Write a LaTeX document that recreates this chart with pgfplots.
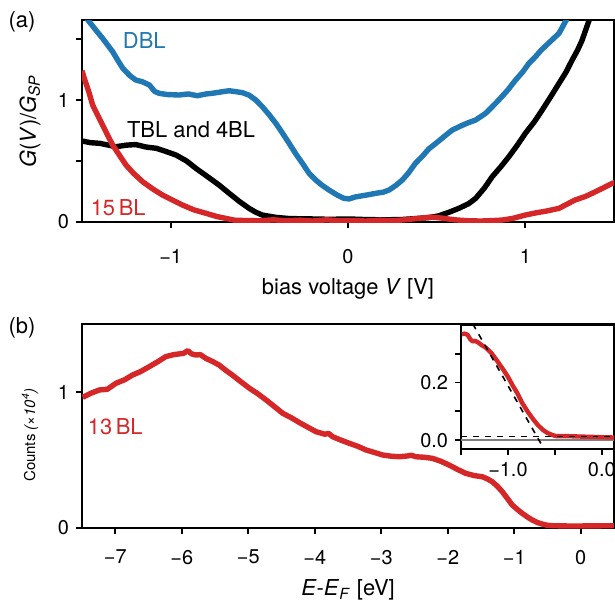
\documentclass[border=0pt]{standalone}
\usepackage{pgfplots}
\pgfplotsset{compat=1.18}
\usepackage{fontspec}
\setmainfont{TeX Gyre Heros}
\definecolor{mplblue}{HTML}{1F77B4}
\definecolor{mplred}{HTML}{D62728}

\pgfplotsset{
  panel/.style={
    scale only axis,
    axis line style={line width=1bp},
    every tick/.style={line width=0.9bp, black},
    major tick length=3bp,
    minor tick length=3bp,
    tick align=outside,
    xtick pos=bottom, ytick pos=left,
    ticklabel style={font=\fontsize{10}{12}\selectfont},
    label style={font=\fontsize{11}{13}\selectfont},
  },
  curve/.style={line width=2.7bp, line join=round},
}

\begin{document}
\begin{tikzpicture}
\useasboundingbox (0,0) rectangle (307.5bp,-301.5bp);

% panel (a)
\begin{axis}[panel,
  at={(41bp,-111bp)}, anchor=south west,
  width=266bp, height=101bp,
  xmin=-1.5, xmax=1.5, ymin=0, ymax=1.656,
  xtick={-1,0,1}, xticklabels={−1,0,1},
  xticklabel style={yshift=-7bp},
  ytick={0,0.5,1,1.5}, yticklabels={0,,1,},
  xlabel={bias voltage \textit{V} [V]},
  ylabel={\textit{G}(\textit{V})/\textit{G}\textsubscript{\textit{SP}}},
  xlabel style={at={(axis description cs:0.5,-0.33)}, anchor=center},
  ylabel style={at={(axis description cs:-0.0977,0.5)}, anchor=center},
]
\addplot[curve, mplblue] coordinates {
(-1.52,1.76) (-1.46,1.643) (-1.42,1.57) (-1.384,1.506) (-1.35,1.44) (-1.327,1.396) (-1.30,1.33)
(-1.27,1.26) (-1.23,1.20) (-1.197,1.164) (-1.16,1.15) (-1.12,1.123) (-1.09,1.07) (-1.065,1.055)
(-1.02,1.045) (-0.952,1.041) (-0.90,1.05) (-0.85,1.035) (-0.80,1.05) (-0.765,1.055) (-0.70,1.07)
(-0.67,1.076) (-0.63,1.068) (-0.595,1.06) (-0.558,1.04) (-0.52,1.0) (-0.483,0.945) (-0.445,0.88)
(-0.407,0.809) (-0.37,0.73) (-0.332,0.645) (-0.295,0.56) (-0.257,0.481) (-0.22,0.40)
(-0.182,0.344) (-0.145,0.30) (-0.107,0.262) (-0.06,0.22) (-0.023,0.194) (0.006,0.189)
(0.04,0.205) (0.08,0.215) (0.12,0.225) (0.156,0.235) (0.20,0.245) (0.231,0.262) (0.27,0.30)
(0.306,0.344) (0.34,0.40) (0.38,0.481) (0.42,0.54) (0.456,0.60) (0.50,0.65) (0.55,0.71)
(0.588,0.754) (0.64,0.79) (0.68,0.815) (0.72,0.836) (0.776,0.891) (0.81,0.94) (0.85,1.0)
(0.90,1.08) (0.945,1.164) (0.985,1.23) (1.02,1.30) (1.057,1.355) (1.09,1.41) (1.13,1.465)
(1.19,1.547) (1.226,1.643) (1.25,1.70)
};
\addplot[curve, black] coordinates {
(-1.50,0.664) (-1.45,0.65) (-1.40,0.645) (-1.35,0.63) (-1.31,0.617) (-1.25,0.63) (-1.197,0.635)
(-1.14,0.615) (-1.08,0.604) (-1.03,0.58) (-0.97,0.549) (-0.91,0.50) (-0.858,0.44) (-0.80,0.38)
(-0.727,0.303) (-0.67,0.235) (-0.614,0.17) (-0.558,0.112) (-0.52,0.08) (-0.483,0.057)
(-0.407,0.038) (-0.33,0.028) (-0.20,0.025) (-0.10,0.022) (0.0,0.025) (0.10,0.02) (0.20,0.018)
(0.30,0.02) (0.40,0.03) (0.46,0.037) (0.51,0.05) (0.57,0.08) (0.625,0.112) (0.68,0.15)
(0.72,0.194) (0.77,0.28) (0.813,0.371) (0.86,0.45) (0.907,0.535) (0.955,0.63) (1.0,0.727)
(1.05,0.82) (1.095,0.918) (1.14,1.02) (1.19,1.137) (1.23,1.23) (1.264,1.328) (1.295,1.41)
(1.32,1.49) (1.357,1.643) (1.37,1.70)
};
\addplot[curve, mplred] coordinates {
(-1.50,1.24) (-1.487,1.178) (-1.46,1.06) (-1.44,0.959) (-1.41,0.87) (-1.384,0.795)
(-1.355,0.71) (-1.327,0.631) (-1.29,0.55) (-1.252,0.467) (-1.21,0.40) (-1.158,0.33)
(-1.10,0.27) (-1.046,0.221) (-0.99,0.18) (-0.933,0.139) (-0.87,0.10) (-0.80,0.071)
(-0.74,0.045) (-0.69,0.03) (-0.64,0.015) (-0.58,0.012) (-0.50,0.01) (-0.42,0.018) (-0.35,0.01)
(-0.27,0.015) (-0.20,0.008) (-0.12,0.018) (-0.05,0.01) (0.03,0.012) (0.10,0.008) (0.18,0.015)
(0.25,0.01) (0.32,0.018) (0.40,0.03) (0.47,0.04) (0.53,0.032) (0.60,0.018) (0.68,0.01)
(0.75,0.008) (0.82,0.012) (0.87,0.016) (0.93,0.03) (1.0,0.057) (1.06,0.075) (1.12,0.09)
(1.19,0.112) (1.24,0.15) (1.28,0.18) (1.34,0.21) (1.395,0.248) (1.44,0.28) (1.49,0.317)
(1.52,0.33)
};
\node[mplblue, font=\fontsize{11}{13}\selectfont] at (axis cs:-1.149,1.484) {DBL};
\node[black, font=\fontsize{11}{13}\selectfont] at (axis cs:-0.885,0.754) {TBL and 4BL};
\node[mplred, font=\fontsize{11}{13}\selectfont] at (axis cs:-1.296,0.115) {15\,BL};
\end{axis}

% panel (b)
\begin{axis}[panel,
  at={(41bp,-264bp)}, anchor=south west,
  width=266bp, height=102bp,
  xmin=-7.5, xmax=0.5, ymin=0, ymax=1.5,
  xtick={-7,-6,-5,-4,-3,-2,-1,0}, xticklabels={−7,−6,−5,−4,−3,−2,−1,0},
  xticklabel style={yshift=-4.5bp},
  ytick={0,1}, yticklabels={0,1},
  xlabel={\textit{E}-\textit{E}\textsubscript{\textit{F}} [eV]},
  ylabel={Counts \textit{(×10\textsuperscript{4})}},
  xlabel style={at={(axis description cs:0.5,-0.305)}, anchor=center},
  ylabel style={at={(axis description cs:-0.0977,0.456)}, anchor=center, font=\fontsize{7.5}{9}\selectfont},
]
\addplot[curve, mplred] coordinates {
(-7.49,0.961) (-7.37,0.99) (-7.24,1.015) (-7.12,1.02) (-6.99,1.064) (-6.86,1.09) (-6.74,1.125)
(-6.62,1.15) (-6.49,1.186) (-6.37,1.22) (-6.24,1.26) (-6.12,1.275) (-6.04,1.28) (-5.97,1.285)
(-5.91,1.304) (-5.85,1.28) (-5.79,1.272) (-5.72,1.275) (-5.64,1.248) (-5.54,1.225)
(-5.44,1.199) (-5.34,1.16) (-5.24,1.125) (-5.11,1.075) (-4.98,1.027) (-4.85,0.985)
(-4.73,0.941) (-4.60,0.89) (-4.48,0.843) (-4.35,0.81) (-4.23,0.775) (-4.10,0.74)
(-3.98,0.708) (-3.85,0.69) (-3.79,0.695) (-3.73,0.671) (-3.60,0.645) (-3.48,0.623)
(-3.35,0.60) (-3.23,0.574) (-3.10,0.555) (-2.98,0.537) (-2.85,0.528) (-2.73,0.524)
(-2.60,0.53) (-2.55,0.535) (-2.48,0.524) (-2.35,0.52) (-2.23,0.512) (-2.10,0.49)
(-1.98,0.463) (-1.85,0.43) (-1.73,0.402) (-1.60,0.385) (-1.48,0.377) (-1.40,0.36)
(-1.33,0.34) (-1.25,0.305) (-1.18,0.267) (-1.10,0.215) (-1.03,0.169) (-0.95,0.135)
(-0.88,0.108) (-0.80,0.08) (-0.73,0.059) (-0.65,0.04) (-0.58,0.029) (-0.50,0.02)
(-0.43,0.017) (-0.20,0.015) (0.0,0.015) (0.25,0.016) (0.50,0.017)
};
\node[mplred, font=\fontsize{11}{13}\selectfont] at (axis cs:-7.0,0.743) {13\,BL};
\end{axis}

% inset
\begin{axis}[panel,
  at={(230.5bp,-224.5bp)}, anchor=south west,
  width=76.5bp, height=62bp,
  axis background/.style={fill=white},
  xmin=-1.5, xmax=0.13, ymin=-0.031, ymax=0.40,
  xtick={-1.5,-1,-0.5,0}, xticklabels={,−1.0,,0.0},
  ytick={0,0.1,0.2,0.3}, yticklabels={0.0,,0.2,},
]
\addplot[gray, line width=1bp] coordinates {(-1.5,0) (0.13,0)};
\addplot[curve, mplred, line width=2.2bp] coordinates {
(-1.49,0.368) (-1.46,0.37) (-1.43,0.366) (-1.40,0.35) (-1.375,0.343) (-1.35,0.345) (-1.32,0.34)
(-1.28,0.33) (-1.23,0.32) (-1.17,0.30) (-1.11,0.273) (-1.05,0.245) (-1.0,0.22) (-0.95,0.19)
(-0.90,0.163) (-0.85,0.13) (-0.79,0.099) (-0.73,0.072) (-0.68,0.052) (-0.63,0.036)
(-0.58,0.025) (-0.53,0.018) (-0.49,0.014) (-0.40,0.014) (-0.30,0.013) (-0.20,0.012)
(-0.10,0.011) (0.0,0.01) (0.13,0.009)
};
\addplot[black, dashed, line width=0.8bp] coordinates {(-1.5,0.012) (0.13,0.012)};
\addplot[black, dashed, line width=0.8bp] coordinates {(-1.5,0.476) (-0.60,-0.04)};
\end{axis}

\node[font=\fontsize{11}{13}\selectfont] at (11bp,-11bp) {(a)};
\node[font=\fontsize{11}{13}\selectfont] at (11bp,-164bp) {(b)};
\end{tikzpicture}
\end{document}
